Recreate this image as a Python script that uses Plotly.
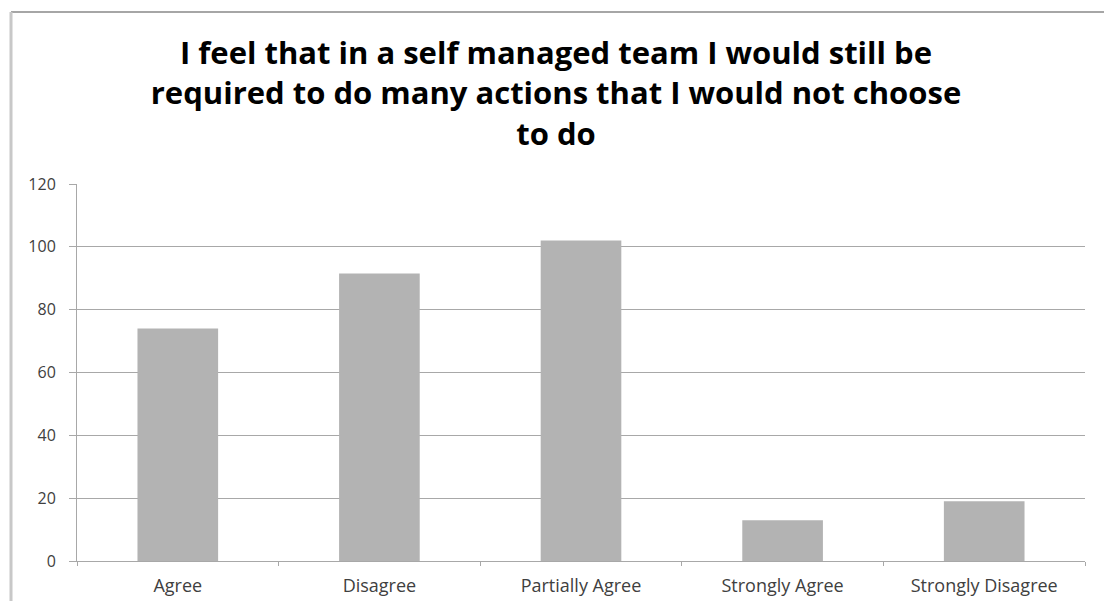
import plotly.graph_objects as go

categories = ["Agree", "Disagree", "Partially Agree", "Strongly Agree", "Strongly Disagree"]
counts = [74, 91.5, 102, 13, 19]
y_ticks = [0, 20, 40, 60, 80, 100, 120]
title_text = "I feel that in a self managed team I would still be<br>required to do many actions that I would not choose<br>to do"

W, H = 1104, 601
L, R, T, B = 77, 19, 184, 40
pw, ph = W - L - R, H - T - B

fig = go.Figure(go.Bar(x=categories, y=counts, marker=dict(color="#b3b3b3", line=dict(width=0))))

def px_x(p):
    return (p - L) / pw

def px_y(p):
    return (H - B - p) / ph

fig.update_layout(
    width=W, height=H,
    margin=dict(l=L, r=R, t=T, b=B),
    paper_bgcolor="white", plot_bgcolor="white",
    bargap=0.6,
    showlegend=False,
    title=dict(text="<b>" + title_text + "</b>", x=556 / W, xanchor="center",
               y=1 - 64 / H, yanchor="top", yref="container",
               font=dict(family="Open Sans", size=31, color="#000000")),
    font=dict(family="Open Sans", size=16, color="#404040"),
    shapes=[
        dict(type="line", xref="paper", yref="paper", x0=px_x(11), x1=px_x(W + 5),
             y0=px_y(12), y1=px_y(12), line=dict(color="#a6a6a6", width=2)),
        dict(type="line", xref="paper", yref="paper", x0=px_x(11), x1=px_x(11),
             y0=px_y(12), y1=px_y(H + 5), line=dict(color="#c8c8c8", width=3)),
    ],
)
fig.update_yaxes(range=[0, 120], tickvals=y_ticks, showgrid=True, gridcolor="#a8a8a8", gridwidth=1,
                 showline=True, linecolor="#a8a8a8", linewidth=1, ticks="outside", ticklen=7,
                 tickcolor="#a8a8a8", zeroline=False, ticklabelstandoff=10, automargin=False,
                 tickfont=dict(size=16, color="#404040"))
fig.update_xaxes(showline=True, linecolor="#a8a8a8", linewidth=1, ticks="outside", ticklen=4,
                 tickcolor="#a8a8a8", tickson="boundaries", automargin=False, ticklabelstandoff=8,
                 tickfont=dict(size=18, color="#404040"))

fig.write_html("out.html")
